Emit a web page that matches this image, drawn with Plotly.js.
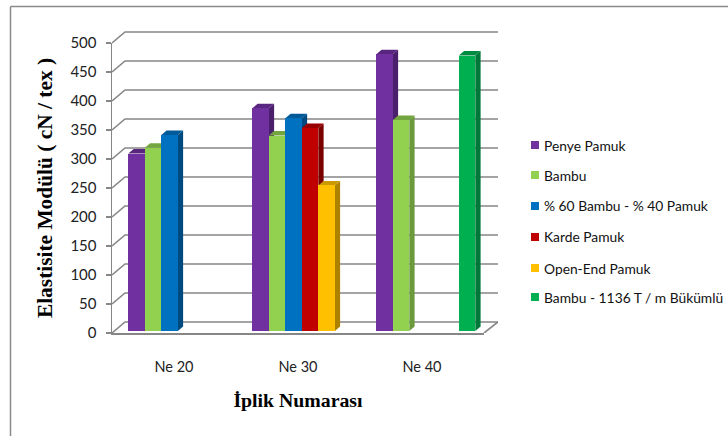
<!DOCTYPE html>
<html>
<head>
<meta charset="utf-8">
<script src="https://cdn.plot.ly/plotly-3.0.1.min.js"></script>
<style>html,body{margin:0;padding:0;background:#fff}</style>
</head>
<body>
<div id="chart" style="width:728px;height:436px"></div>
<script>
// Yarn count categories and tensile modulus per yarn type
const categories = ["Ne 20", "Ne 30", "Ne 40"];
const penyePamuk = [306, 384, 477];
const bambu = [316, 337, 364];
const bambuPamuk = [338, 367, null];
const kardePamuk = [null, 350, null];
const openEndPamuk = [null, 251, null];
const bambuBukumlu = [null, null, 475];

const seriesNames = ["Penye Pamuk", "Bambu", "% 60 Bambu - % 40 Pamuk", "Karde Pamuk", "Open-End Pamuk", "Bambu - 1136 T / m Bükümlü"];
const seriesValues = [penyePamuk, bambu, bambuPamuk, kardePamuk, openEndPamuk, bambuBukumlu];
const frontColors = ["#7030A0", "#92D050", "#0070C0", "#C00000", "#FFC000", "#00B050"];
const topColors = ["#59267F", "#74A640", "#005A99", "#990000", "#CC9900", "#008C40"];
const sideColors = ["#4A1F6B", "#6A9A3B", "#004A80", "#7A0000", "#AD8200", "#00783A"];
const valueTicks = [0, 50, 100, 150, 200, 250, 300, 350, 400, 450, 500];
const legendRows = [145, 175, 206, 237, 268, 297];

// Plot frame in pixels; the wall and floor geometry hangs off these
const W = 728, H = 436, plotLeft = 112, plotRight = 498, plotTop = 30, plotBottom = 333;
const pxPerValue = 0.58, pxPerCategory = 124;
const slot = 16.5 / pxPerCategory, firstOffset = -0.3645;
const barDX = 5.3 / pxPerCategory, barDY = 4.5 / pxPerValue;
const wallDX = 13 / pxPerCategory, wallDY = 9 / pxPerValue;
const wallLift = 2 / pxPerValue;

const xStart = -0.496, xEnd = xStart + (plotRight - plotLeft) / pxPerCategory;
const yStart = -wallLift, yEnd = yStart + (plotBottom - plotTop) / pxPerValue;
const paperX = p => (p - plotLeft) / (plotRight - plotLeft);
const paperY = p => (plotBottom - p) / (plotBottom - plotTop);

const poly = (pts, fill) => ({
  type: "path", xref: "x", yref: "y2", layer: "below",
  path: "M" + pts.map(p => p[0] + "," + p[1]).join("L") + "Z",
  fillcolor: fill, line: {width: 0}
});
const wallLine = (pts, width) => ({
  type: "path", xref: "x", yref: "y2", layer: "below",
  path: "M" + pts.map(p => p[0] + "," + p[1]).join("L"),
  line: {color: "#868686", width: width}
});

const shapes = [];
const wallLeft = xStart, wallRight = xEnd;
const floorRight = xStart + 372 / pxPerCategory;
valueTicks.forEach(v => {
  const front = v - wallLift, back = v + wallDY;
  shapes.push(wallLine([[wallLeft, front], [wallLeft + wallDX, back], [wallRight, back]], 1.6));
});
shapes.push(wallLine([[floorRight, -wallLift], [wallRight, wallDY]], 1.6));

// Side and top faces of every bar; the front faces are the bar traces
seriesValues.forEach((vals, s) => {
  vals.forEach((v, c) => {
    if (v === null) return;
    const l = c + firstOffset + s * slot, r = l + slot;
    shapes.push(poly([[r, 0], [r + barDX, barDY], [r + barDX, v + barDY], [r, v]], sideColors[s]));
    shapes.push(poly([[l, v], [l + barDX, v + barDY], [r + barDX, v + barDY], [r, v]], topColors[s]));
  });
});

// Legend swatches and the outer frame of the chart
legendRows.forEach((y, s) => {
  shapes.push({type: "rect", xref: "paper", yref: "paper",
    x0: paperX(531), x1: paperX(539), y0: paperY(y + 4), y1: paperY(y - 4),
    fillcolor: frontColors[s], line: {width: 0}});
});
shapes.push({type: "line", xref: "paper", yref: "paper", x0: paperX(10.5), x1: paperX(10.5), y0: paperY(6.5), y1: paperY(436), line: {color: "#8A8A8A", width: 1.5}});
shapes.push({type: "line", xref: "paper", yref: "paper", x0: paperX(10.5), x1: paperX(728), y0: paperY(6.5), y1: paperY(6.5), line: {color: "#8A8A8A", width: 1.5}});

const annotations = seriesNames.map((name, s) => ({
  xref: "paper", yref: "paper", x: paperX(541.5), y: paperY(legendRows[s]),
  xanchor: "left", yanchor: "middle", showarrow: false, text: name,
  font: {family: "Lato, sans-serif", size: 13.8, color: "#111"}
}));

const xPositions = categories.map((_, i) => i);
const traces = seriesValues.map((vals, s) => ({
  type: "bar", name: seriesNames[s], x: xPositions, y: vals,
  xaxis: "x", yaxis: "y2", width: slot, offset: firstOffset + s * slot,
  marker: {color: frontColors[s], line: {width: 0}},
  showlegend: false
}));
// Carrier trace that keeps the labelled axes present
traces.push({type: "scatter", mode: "none", x: xPositions, y: xPositions.map(() => null),
  xaxis: "x2", yaxis: "y", showlegend: false, hoverinfo: "skip"});

const layout = {
  width: W, height: H, autosize: false, showlegend: false,
  paper_bgcolor: "#fff", plot_bgcolor: "rgba(0,0,0,0)",
  margin: {l: plotLeft, r: W - plotRight, t: plotTop, b: H - plotBottom, pad: 0},
  xaxis: {domain: [0, 1], range: [xStart, xEnd], visible: false, anchor: "y2", fixedrange: true},
  yaxis2: {domain: [0, 1], range: [yStart, yEnd], visible: false, anchor: "x", fixedrange: true},
  xaxis2: {
    domain: [0, 372 / (plotRight - plotLeft)], range: [-0.5, 2.5], anchor: "y",
    tickmode: "array", tickvals: xPositions, ticktext: categories, ticks: "",
    showgrid: false, zeroline: false, showline: true, linecolor: "#868686", linewidth: 2,
    ticklabelstandoff: 20, tickfont: {family: "Lato, sans-serif", size: 14.5, color: "#222"},
    title: {text: "İplik Numarası", standoff: 19, font: {family: "Liberation Serif, serif", size: 19.8, color: "#000", weight: 700}}
  },
  yaxis: {
    domain: [0, 290 / (plotBottom - plotTop)], range: [0, 500], anchor: "x2",
    tickmode: "array", tickvals: valueTicks, ticks: "outside", ticklen: 5, tickwidth: 1.5, tickcolor: "#868686",
    showgrid: false, zeroline: false, showline: true, linecolor: "#868686", linewidth: 1.5,
    ticklabelstandoff: 6, tickfont: {family: "Lato, sans-serif", size: 15, color: "#222"},
    title: {text: "Elastisite Modülü ( cN / tex )", standoff: 12, font: {family: "Liberation Serif, serif", size: 21.4, color: "#000", weight: 700}}
  },
  shapes: shapes,
  annotations: annotations,
  bargap: 0
};

Plotly.newPlot("chart", traces, layout, {displayModeBar: false, staticPlot: true});
</script>
</body>
</html>
